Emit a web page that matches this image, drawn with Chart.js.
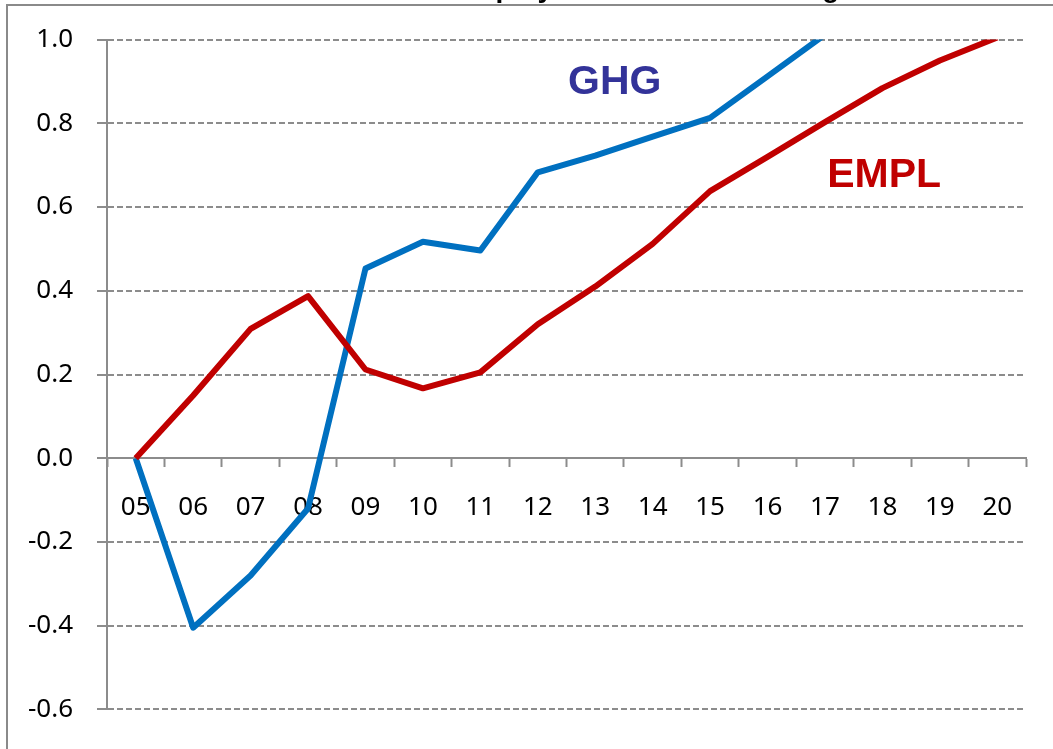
<!DOCTYPE html>
<html><head><meta charset="utf-8">
<style>html,body{margin:0;padding:0;background:#fff;}#wrap{position:absolute;left:0;top:0;width:1053px;height:749px;}</style>
<script src="https://cdn.jsdelivr.net/npm/chart.js@4.4.1/dist/chart.umd.min.js"></script>
</head><body><div id="wrap"><canvas id="c" width="1053" height="749"></canvas></div>
<script>
const categories = ['05','06','07','08','09','10','11','12','13','14','15','16','17','18','19','20'];
const ghg  = [0.0,-0.405,-0.28,-0.12,0.453,0.517,0.496,0.683,0.723,0.768,0.813,0.912,1.012,null,null,null];
const empl = [0.0,0.15,0.309,0.387,0.212,0.167,0.205,0.32,0.41,0.512,0.638,0.72,0.803,0.884,0.95,1.005];
const yTicks = [-0.6,-0.4,-0.2,0.0,0.2,0.4,0.6,0.8,1.0];
const titleText = 'Employment and GHG change';
const labels = [
  {text:'GHG', x:8.34, y:0.896, color:'#333399'},
  {text:'EMPL', x:13.03, y:0.676, color:'#C00000'}
];
const grey = '#8c8c8c';

const deco = {
  id:'deco',
  beforeDraw(chart){
    const ctx = chart.ctx;
    ctx.save();
    ctx.fillStyle = '#ffffff';
    ctx.fillRect(0,0,chart.width,chart.height);
    ctx.fillStyle = '#8a8a8a';
    ctx.fillRect(6,4,chart.width,2);
    ctx.fillRect(6,4,2,chart.height);
    ctx.fillStyle = '#000';
    ctx.font = 'bold 28px "Liberation Sans", Arial, sans-serif';
    ctx.textAlign = 'left';
    ctx.textBaseline = 'alphabetic';
    ctx.fillText(titleText, 452, -3);
    ctx.restore();
  },
  afterDatasetsDraw(chart){
    const ctx = chart.ctx, xs = chart.scales.x, ys = chart.scales.y;
    ctx.save();
    ctx.font = 'bold 41px "Liberation Sans", Arial, sans-serif';
    ctx.textAlign = 'center';
    ctx.textBaseline = 'middle';
    labels.forEach(l=>{
      ctx.fillStyle = l.color;
      ctx.fillText(l.text, xs.getPixelForValue(l.x), ys.getPixelForValue(l.y));
    });
    ctx.restore();
  }
};

new Chart(document.getElementById('c'), {
  type:'line',
  data:{
    labels: categories,
    datasets:[
      {label:'EMPL', data:empl, borderColor:'#C00000', borderWidth:6, pointRadius:0, tension:0, clip:0, borderJoinStyle:'round'},
      {label:'GHG', data:ghg, borderColor:'#0070C0', borderWidth:6, pointRadius:0, tension:0, clip:0, borderJoinStyle:'round'}
    ]
  },
  options:{
    responsive:false,
    animation:false,
    layout:{padding:{left:0,right:27,top:39,bottom:34}},
    plugins:{legend:{display:false}, title:{display:false}, tooltip:{enabled:false}},
    scales:{
      y:{
        min:-0.6, max:1.0,
        afterFit(s){ s.width = 107; },
        afterBuildTicks(s){ s.ticks = yTicks.map(v=>({value:v})); },
        ticks:{ padding:24, color:'#000', font:{family:'"Noto Sans", "Open Sans", sans-serif', size:26}, callback:v=>Number(v).toFixed(1) },
        grid:{ color:grey, lineWidth:2, tickLength:10, tickColor:grey, tickWidth:2, tickBorderDash:[0,0] },
        border:{ display:true, color:grey, width:2, dash:[6,3] }
      },
      x:{
        type:'category',
        position:{y:0},
        offset:true,
        ticks:{ padding:26, color:'#000', font:{family:'"Noto Sans", "Open Sans", sans-serif', size:26}, maxRotation:0, autoSkip:false },
        grid:{ display:true, offset:true, drawOnChartArea:false, drawTicks:true, tickLength:8, tickColor:grey, tickWidth:2 },
        border:{ display:true, color:grey, width:2 }
      }
    }
  },
  plugins:[deco]
});
</script></body></html>
